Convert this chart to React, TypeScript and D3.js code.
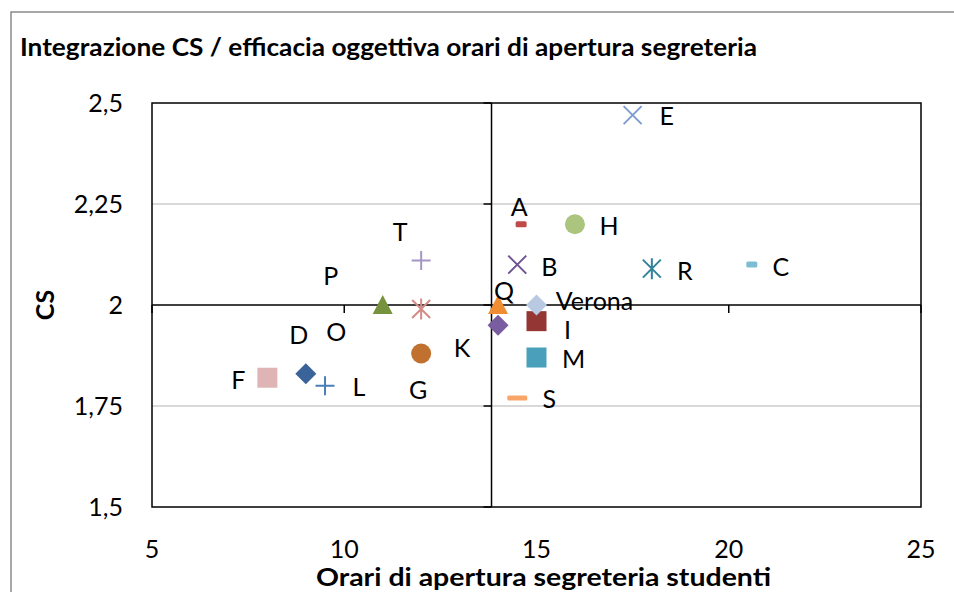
import React from "react";
import * as d3 from "d3";

// ---- data ----
const names = ["A", "B", "C", "D", "E", "F", "G", "H", "I", "K", "L", "M", "O", "P", "Q", "R", "S", "T", "Verona"];
const hours = [14.6, 14.5, 20.6, 9, 17.5, 8, 12, 16, 15, 14, 9.5, 15, 12, 11, 14, 18, 14.5, 12, 15];
const csValues = [2.2, 2.1, 2.1, 1.83, 2.47, 1.82, 1.88, 2.2, 1.96, 1.95, 1.8, 1.87, 1.99, 2, 2, 2.09, 1.77, 2.11, 2];
const xTicks = [5, 10, 15, 20, 25];
const yTicks = [1.5, 1.75, 2, 2.25, 2.5];
const yTickLabels = ["1,5", "1,75", "2", "2,25", "2,5"];
const gridValues = [1.75, 2.25];
const crossX = 13.83; // vertical axis crosses here
const crossY = 2; // horizontal axis crosses here

const title = "Integrazione CS / efficacia oggettiva orari di apertura segreteria";
const xTitle = "Orari di apertura segreteria studenti";
const yTitle = "CS";

// ---- styles (marker type, colour, label offset in px) ----
const markerTypes = ["dash", "x", "dash", "diamond", "x", "square", "circle", "circle", "square", "diamond", "plus", "square", "star", "triangle", "triangle", "star", "longdash", "plus", "diamond"];
const colors = ["#BE4B48", "#6E5493", "#7CBDD4", "#3A6399", "#7E9DD0", "#DFB4B4", "#C0712F", "#ABC47E", "#943634", "#7A5DA0", "#4A7EBB", "#4AA0BA", "#D38B87", "#77923C", "#F08C32", "#31849B", "#F9A56A", "#A596C6", "#B8C9E1"];
const labelDx = [-2, 32, 29, -7, 34, -29, -3, 34, 31, -36, 34, 37, -85, -52, 6, 33, 32, -21, 58];
const labelDy = [-17, 2, 2, -39, 1, 2, 37, 2, 9, 23, 1, 1, 23, -29, -14, 2, 1, -29, -4];

const W = 954;
const H = 592;
const plot = { left: 152, right: 921, top: 103, bottom: 507 };
const FONT = "Lato, 'Open Sans', sans-serif";

function Marker({ type, color }: { type: string; color: string }) {
  switch (type) {
    case "square":
      return <rect x={-10} y={-10} width={20} height={20} fill={color} />;
    case "diamond":
      return <path d="M0,-10.5L10.5,0L0,10.5L-10.5,0Z" fill={color} />;
    case "circle":
      return <circle r={10} fill={color} />;
    case "triangle":
      return <path d="M0,-10L10,9L-10,9Z" fill={color} />;
    case "plus":
      return <path d="M-9.5,0H9.5M0,-9.5V9.5" stroke={color} strokeWidth={2} fill="none" />;
    case "x":
      return <path d="M-9,-9L9,9M-9,9L9,-9" stroke={color} strokeWidth={2} fill="none" />;
    case "star":
      return <path d="M-9,-9L9,9M-9,9L9,-9M0,-10.5V10.5" stroke={color} strokeWidth={2} fill="none" />;
    case "dash":
      return <rect x={-5.5} y={-3} width={11} height={6} rx={1.5} fill={color} />;
    case "longdash":
      return <rect x={-10} y={-2.5} width={20} height={5} rx={1.5} fill={color} />;
    default:
      return null;
  }
}

export default function App() {
  const x = d3.scaleLinear().domain([5, 25]).range([plot.left, plot.right]);
  const y = d3.scaleLinear().domain([1.5, 2.5]).range([plot.bottom, plot.top]);

  const points = names.map((n, i) => ({ name: n, hx: hours[i], cy: csValues[i], i }));

  return (
    <svg
      width={W}
      height={H}
      style={{ position: "absolute", left: 0, top: 0, background: "#fff" }}
      fontFamily={FONT}
    >
      <rect x={0} y={0} width={W} height={H} fill="#fff" />
      {/* outer chart border */}
      <path d={`M11,${H}V12H${W}`} fill="none" stroke="#8a8a8a" strokeWidth={1.5} />

      {/* title */}
      <text x={20} y={56} fontSize={24} fontWeight="bold" fill="#000" textLength={737} lengthAdjust="spacingAndGlyphs">
        {title}
      </text>

      {/* gridlines */}
      {gridValues.map((g) => (
        <line key={g} x1={plot.left} x2={plot.right} y1={y(g)} y2={y(g)} stroke="#d9d9d9" strokeWidth={2} />
      ))}

      {/* plot border */}
      <rect
        x={plot.left}
        y={plot.top}
        width={plot.right - plot.left}
        height={plot.bottom - plot.top}
        fill="none"
        stroke="#000"
        strokeWidth={1.5}
      />

      {/* axes */}
      <line x1={plot.left} x2={plot.right} y1={y(crossY)} y2={y(crossY)} stroke="#000" strokeWidth={1.5} />
      <line x1={x(crossX)} x2={x(crossX)} y1={plot.top} y2={plot.bottom} stroke="#000" strokeWidth={1.5} />
      {yTicks.map((t) => (
        <line key={"yt" + t} x1={x(crossX) - 8} x2={x(crossX)} y1={y(t)} y2={y(t)} stroke="#000" strokeWidth={1.5} />
      ))}
      {xTicks.map((t) => (
        <line key={"xt" + t} x1={x(t)} x2={x(t)} y1={y(crossY)} y2={y(crossY) + 8} stroke="#000" strokeWidth={1.5} />
      ))}

      {/* tick labels */}
      {yTicks.map((t, i) => (
        <text key={"yl" + t} x={123} y={y(t)} dy="0.36em" textAnchor="end" fontSize={25} fill="#000">
          {yTickLabels[i]}
        </text>
      ))}
      {xTicks.map((t) => (
        <text key={"xl" + t} x={x(t)} y={558} textAnchor="middle" fontSize={25} fill="#000">
          {t}
        </text>
      ))}

      {/* axis titles */}
      <text x={543.5} y={586} textAnchor="middle" fontSize={24} fontWeight="bold" fill="#000" textLength={455} lengthAdjust="spacingAndGlyphs">
        {xTitle}
      </text>
      <text
        transform={`translate(54,305) rotate(-90)`}
        textAnchor="middle"
        fontSize={25}
        fontWeight="bold"
        fill="#000"
      >
        {yTitle}
      </text>

      {/* markers */}
      {points.map((p) => (
        <g key={"m" + p.name} transform={`translate(${x(p.hx)},${y(p.cy)})`}>
          <Marker type={markerTypes[p.i]} color={colors[p.i]} />
        </g>
      ))}

      {/* labels */}
      {points.map((p) => (
        <text
          key={"l" + p.name}
          x={x(p.hx) + labelDx[p.i]}
          y={y(p.cy) + labelDy[p.i]}
          dy="0.36em"
          textAnchor="middle"
          fontSize={25}
          fill="#000"
        >
          {p.name}
        </text>
      ))}
    </svg>
  );
}
